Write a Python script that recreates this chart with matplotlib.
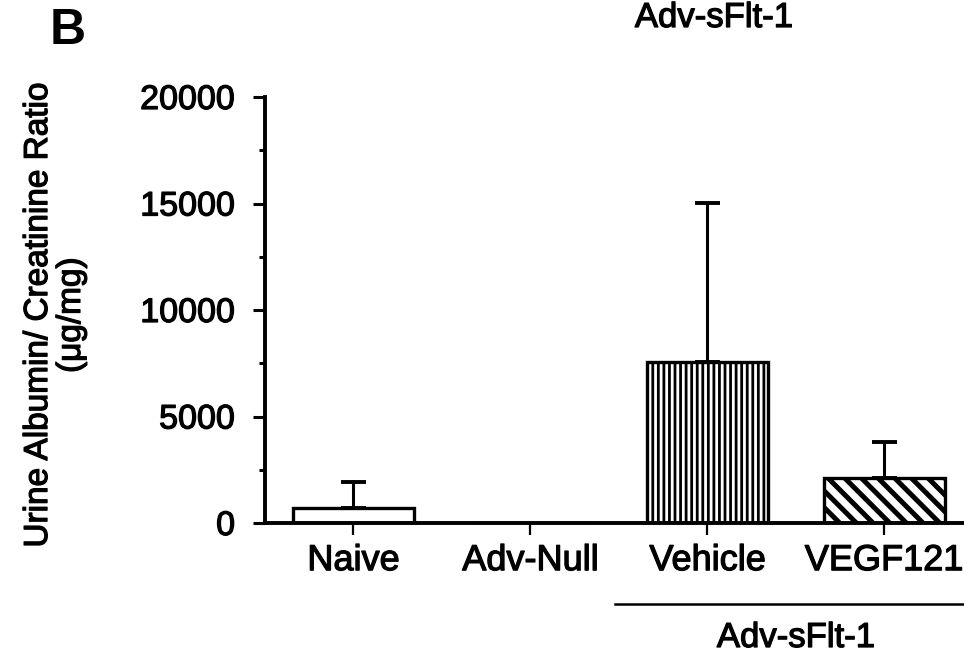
import matplotlib
matplotlib.use("Agg")
import matplotlib.pyplot as plt
import matplotlib.patheffects as pe
from matplotlib.ticker import MultipleLocator

plt.rcParams['font.family'] = ['Liberation Sans', 'DejaVu Sans']

categories = ["Naive", "Adv-Null", "Vehicle", "VEGF121"]
means = [700, 0, 7560, 2110]
errors = [1230, 0, 7480, 1690]
group_label = "Adv-sFlt-1"
y_ticks = [0, 5000, 10000, 15000, 20000]

hatches = ["", "", "|||", "\\\\"]
hatch_lw = [1.0, 1.0, 2.0, 3.6]

heavy = [pe.withStroke(linewidth=0.9, foreground='black')]

fig = plt.figure(figsize=(9.64, 6.56), dpi=100)
ax = fig.add_axes([265/964, 133/656, 699/964, 426/656])

x = list(range(len(categories)))
for i in x:
    with plt.rc_context({'hatch.linewidth': hatch_lw[i]}):
        b = ax.bar(i, means[i], width=0.68, color='white', edgecolor='black',
                   linewidth=2.4, hatch=hatches[i] if hatches[i] else None, zorder=2)
    for p in b.patches:
        if hasattr(p, 'set_hatch_linewidth'):
            p.set_hatch_linewidth(hatch_lw[i])
    if errors[i] > 0:
        ax.errorbar(i, means[i], yerr=[[0], [errors[i]]], fmt='none', ecolor='black',
                    elinewidth=2.2, capsize=9, capthick=2.8, zorder=3)

ax.set_xlim(-0.5, 3.45)
ax.set_ylim(0, 20000)
ax.set_yticks(y_ticks)
ax.set_yticklabels([str(v) for v in y_ticks])
ax.yaxis.set_minor_locator(MultipleLocator(2500))
ax.set_xticks(x)
ax.set_xticklabels(categories)

for s in ['top', 'right']:
    ax.spines[s].set_visible(False)
ax.spines['left'].set_linewidth(2.8)
ax.spines['bottom'].set_linewidth(2.8)
ax.spines['left'].set_zorder(4)
ax.spines['bottom'].set_zorder(4)

ax.tick_params(axis='y', which='major', direction='out', length=8.5, width=2.2,
               labelsize=24.5, pad=13)
ax.tick_params(axis='y', which='minor', direction='out', length=4.5, width=2.2)
ax.tick_params(axis='x', which='major', direction='out', length=8.5, width=1.6,
               labelsize=26, pad=6)
for lab in ax.get_xticklabels() + ax.get_yticklabels():
    lab.set_path_effects(heavy)

# group annotation below the axis
ax.plot([1.48, 3.45], [-0.19, -0.19], color='black', lw=1.8,
        transform=ax.get_xaxis_transform(), clip_on=False)
fig.text(796/964, 2/656, group_label, ha='center', va='bottom', fontsize=25,
         path_effects=heavy)

fig.text(55/964, 1 - 315/656, "Urine Albumin/ Creatinine Ratio\n(\u03bcg/mg)",
         rotation=90, ha='center', va='center', fontsize=24, linespacing=1.08,
         multialignment='center', path_effects=heavy)

fig.text(50/964, 1 - 8/656, "B", ha='left', va='top', fontsize=36, fontweight='bold')
fig.text(714/964, 1 - 1/656, group_label, ha='center', va='top', fontsize=25,
         path_effects=heavy)

fig.savefig("out.png", dpi=100)
